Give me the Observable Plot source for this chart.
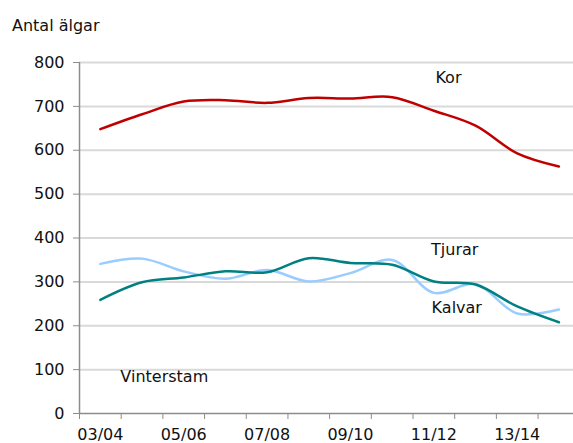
<!DOCTYPE html>
<html>
<head>
<meta charset="utf-8">
<script src="https://cdn.jsdelivr.net/npm/d3@7"></script>
<script src="https://cdn.jsdelivr.net/npm/@observablehq/plot@0.6"></script>
<style>
  body { margin: 0; background: #fff; font-family: "DejaVu Sans", sans-serif; }
  #title { position: relative; height: 40px; }
  #title span { position: absolute; left: 12px; top: 16px; font-size: 16px; line-height: normal; color: #111; }
</style>
</head>
<body>
<div id="title"><span>Antal älgar</span></div>
<div id="chart"></div>
<script>
const seasons = ["03/04","04/05","05/06","06/07","07/08","08/09","09/10","10/11","11/12","12/13","13/14","14/15"];
const kor    = [648, 682, 711, 714, 708, 719, 718, 721, 690, 656, 593, 563];
const tjurar = [341, 353, 324, 307, 327, 301, 320, 350, 275, 295, 228, 237];
const kalvar = [259, 299, 310, 324, 322, 354, 343, 339, 301, 294, 244, 208];
const yTicks = [0, 100, 200, 300, 400, 500, 600, 700, 800];
const labelNames = ["Kor", "Tjurar", "Kalvar"];
const labelX = [8.35, 8.5, 8.55];
const labelY = [764, 374, 241];
const noteText = ["Vinterstam"];
const noteX = [0.48];
const noteY = [84];

const series = [
  {name: "Kor", values: kor, color: "#c00000"},
  {name: "Tjurar", values: tjurar, color: "#99ccff"},
  {name: "Kalvar", values: kalvar, color: "#008080"}
];
const rows = series.flatMap(s => s.values.map((v, i) => ({name: s.name, i, v, color: s.color})));
const labels = labelNames.map((t, k) => ({t, x: labelX[k], y: labelY[k]}));
const notes = noteText.map((t, k) => ({t, x: noteX[k], y: noteY[k]}));
const boundaries = seasons.slice(0, 11).map((_, i) => i - 0.5).concat([10.5]);
const labelTicks = seasons.map((_, i) => i).filter(i => i % 2 === 0);

const chart = Plot.plot({
  width: 573,
  height: 403,
  marginLeft: 79,
  marginRight: 0,
  marginTop: 22,
  marginBottom: 30,
  style: {fontFamily: "DejaVu Sans, sans-serif", fontSize: "16px", color: "#111", background: "#fff"},
  x: {type: "linear", domain: [-0.5, 11.35]},
  y: {domain: [0, 800]},
  marks: [
    Plot.gridY(yTicks.filter(d => d > 0), {stroke: "#d9d9d9", strokeOpacity: 1, strokeWidth: 2}),
    Plot.ruleY([0], {stroke: "#8c8c8c", strokeWidth: 1.5}),
    Plot.ruleX([-0.5], {stroke: "#8c8c8c", strokeWidth: 1.5}),
    Plot.axisY({ticks: yTicks, tickSize: 6, tickPadding: 9, stroke: "#8c8c8c", label: null, fill: "#111", fontSize: 16}),
    Plot.axisX({ticks: boundaries, tickSize: 6, tickFormat: () => "", stroke: "#8c8c8c", label: null}),
    Plot.axisX({ticks: labelTicks, tickSize: 0, tickPadding: 15, tickFormat: i => seasons[i], label: null, fill: "#111", fontSize: 16}),
    Plot.line(rows, {x: "i", y: "v", z: "name", stroke: "color", strokeWidth: 2.5, curve: "catmull-rom"}),
    Plot.text(labels, {x: "x", y: "y", text: "t", textAnchor: "middle", fill: "#111", fontSize: 16}),
    Plot.text(notes, {x: "x", y: "y", text: "t", textAnchor: "start", fill: "#111", fontSize: 16})
  ]
});
document.getElementById("chart").appendChild(chart);
</script>
</body>
</html>
